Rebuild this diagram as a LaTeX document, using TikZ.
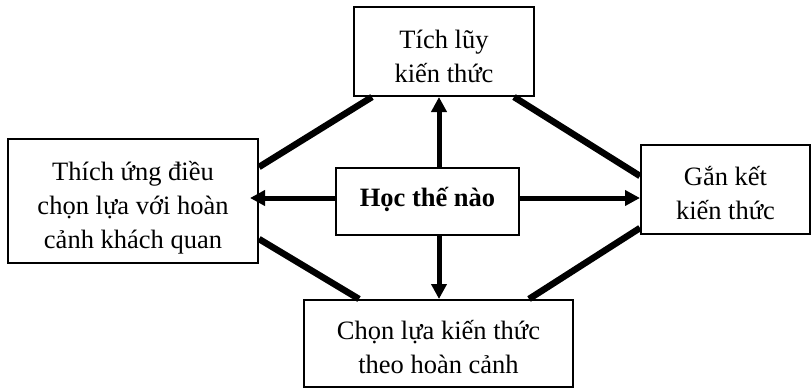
\documentclass[tikz,border=0pt]{standalone}
\usepackage{fontspec}
\setmainfont{Liberation Serif}
\usetikzlibrary{arrows.meta}
\begin{document}
\begin{tikzpicture}[x=1pt,y=-1pt,
  box/.style={draw, line width=2pt, inner sep=0pt},
  txt/.style={align=center, inner sep=0pt, font=\fontsize{26.5}{34}\selectfont},
  link/.style={line width=6.5pt},
  flow/.style={line width=5pt, -{Triangle[length=15pt,width=15pt]}}]
\useasboundingbox (0,0) rectangle (811,388);

% boxes
\node[box, minimum width=180pt, minimum height=89pt] (top) at (444,51.5) {};
\node[box, minimum width=183pt, minimum height=67pt] (mid) at (427.5,201.5) {};
\node[box, minimum width=250pt, minimum height=124pt] (left) at (133,201) {};
\node[box, minimum width=169pt, minimum height=89pt] (right) at (725.5,189.5) {};
\node[box, minimum width=269pt, minimum height=87pt] (bot) at (438.5,343.5) {};

% box texts
\node[txt] (topT) at ([yshift=-5pt]top.center) {Tích lũy\\kiến thức};
\node[txt, font=\fontsize{26.5}{34}\selectfont\bfseries] (midT) at ([yshift=2pt]mid.center) {Học thế nào};
\node[txt] (leftT) at ([yshift=-7pt]left.center) {Thích ứng điều\\chọn lựa với hoàn\\cảnh khách quan};
\node[txt] (rightT) at ([yshift=-4pt]right.center) {Gắn kết\\kiến thức};
\node[txt] (botT) at ([yshift=-4pt]bot.center) {Chọn lựa kiến thức\\theo hoàn cảnh};

% outer links
\draw[link] ([xshift=19pt]top.south west) -- ([yshift=-29pt]left.north east);
\draw[link] ([xshift=-21pt]top.south east) -- ([yshift=-32pt]right.north west);
\draw[link] ([yshift=25pt]left.south east) -- ([xshift=56pt]bot.north west);
\draw[link] ([yshift=7pt]right.south west) -- ([xshift=-45pt]bot.north east);

% arrows from the centre
\coordinate (up0) at ([xshift=11.5pt]mid.north);
\coordinate (dn0) at ([xshift=11.5pt]mid.south);
\coordinate (lf0) at ([yshift=3.5pt]mid.west);
\coordinate (rt0) at ([yshift=3.5pt]mid.east);
\draw[flow] (up0) -- (up0 |- top.south);
\draw[flow] (dn0) -- (dn0 |- bot.north);
\draw[flow, shorten >=-9pt] (lf0) -- (lf0 -| left.east);
\draw[flow] (rt0) -- (rt0 -| right.west);
\end{tikzpicture}
\end{document}
